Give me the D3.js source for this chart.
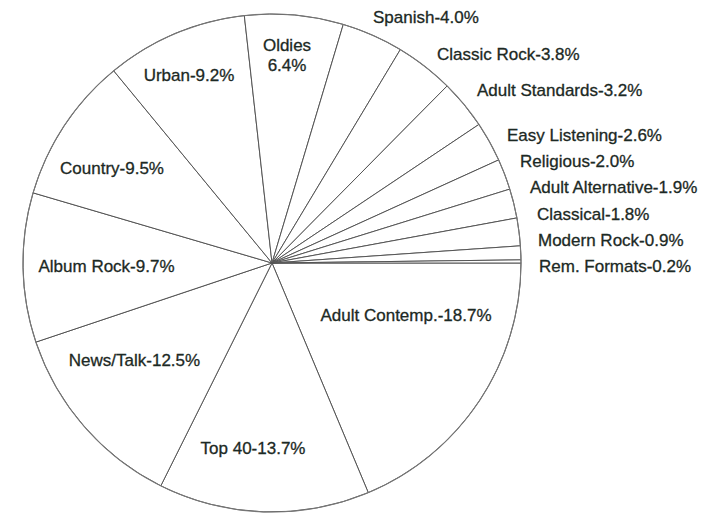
<!DOCTYPE html>
<html>
<head>
<meta charset="utf-8">
<script src="https://cdn.jsdelivr.net/npm/d3@7"></script>
<style>
  html, body { margin: 0; padding: 0; background: #fff; }
  svg { display: block; }
  text { font-family: "Liberation Sans", Arial, Helvetica, sans-serif; font-size: 17px; fill: #1c2924; stroke: #1c2924; stroke-width: 0.3px; }
</style>
</head>
<body>
<svg id="chart" width="702" height="513"></svg>
<script>
// Radio station formats, share of stations (%), clockwise from 3 o'clock
const formats = [
  "Adult Contemp.", "Top 40", "News/Talk", "Album Rock", "Country", "Urban",
  "Oldies", "Spanish", "Classic Rock", "Adult Standards", "Easy Listening",
  "Religious", "Adult Alternative", "Classical", "Modern Rock", "Rem. Formats"
];
const shares = [18.7, 13.7, 12.5, 9.7, 9.5, 9.2, 6.4, 4.0, 3.8, 3.2, 2.6, 2.0, 1.9, 1.8, 0.9, 0.2];

// Label anchors: [x, baseline y, anchor]
const labelPos = [
  [406, 321, "middle"], [253, 454, "middle"], [134.5, 366, "middle"],
  [106.5, 272, "middle"], [112, 174, "middle"], [189, 81, "middle"],
  [287, 51, "middle"], [373, 23, "start"], [437, 60, "start"],
  [477, 96, "start"], [507, 141, "start"], [520, 167, "start"],
  [530, 193, "start"], [537, 220, "start"], [538, 246, "start"],
  [539, 272, "start"]
];

const cx = 272, cy = 263, radius = 249;
const svg = d3.select("#chart");

const pie = d3.pie()
  .sort(null)
  .value(d => d)
  .startAngle(Math.PI / 2)
  .endAngle(Math.PI / 2 + 2 * Math.PI);

const arc = d3.arc().innerRadius(0).outerRadius(radius);
const arcs = pie(shares);

const g = svg.append("g").attr("transform", `translate(${cx},${cy})`);

// slices: white fill, thin radial borders
g.selectAll("path.slice")
  .data(arcs)
  .join("path")
  .attr("class", "slice")
  .attr("d", arc)
  .attr("fill", "#fff")
  .attr("stroke", "#555")
  .attr("stroke-width", 1);

// outer rim drawn lighter
g.append("circle")
  .attr("r", radius)
  .attr("fill", "none")
  .attr("stroke", "#777")
  .attr("stroke-width", 1.1);

// labels
const labels = svg.append("g");
formats.forEach((name, i) => {
  const [x, y, anchor] = labelPos[i];
  const pct = shares[i].toFixed(1) + "%";
  const t = labels.append("text")
    .attr("x", x)
    .attr("y", y)
    .attr("text-anchor", anchor);
  if (name === "Oldies") {
    t.append("tspan").attr("x", x).text(name);
    t.append("tspan").attr("x", x).attr("dy", 20).text(pct);
  } else {
    t.text(`${name}-${pct}`);
  }
});
</script>
</body>
</html>
